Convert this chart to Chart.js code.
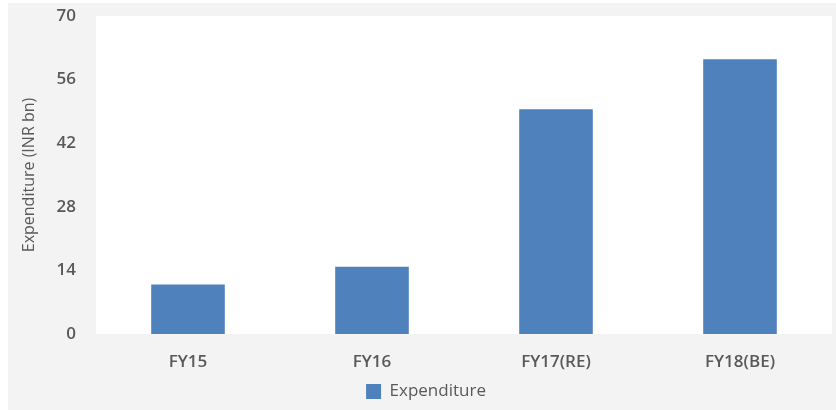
<!DOCTYPE html>
<html>
<head>
<meta charset="utf-8">
<script src="https://cdn.jsdelivr.net/npm/chart.js@4.4.1/dist/chart.umd.min.js"></script>
<style>
    html, body { margin: 0; padding: 0; background: #ffffff; }
    #wrap { width: 836px; height: 410px; position: relative; }
</style>
</head>
<body>
<div id="wrap"><canvas id="expChart" width="836" height="410"></canvas></div>
<script>
// Data
const categories = ['FY15', 'FY16', 'FY17(RE)', 'FY18(BE)'];
const expenditure = [10.9, 14.8, 49.5, 60.5];
const yTicks = [0, 14, 28, 42, 56, 70];

const textColor = '#595959';
const fontFamily = "'Open Sans', 'Liberation Sans', sans-serif";
const padLeft = 20;

// Grey outer frame + white plot area (Excel look)
const backgroundPlugin = {
    id: 'backgroundPlugin',
    beforeDraw(chart) {
        const ctx = chart.ctx;
        const area = chart.chartArea;
        ctx.save();
        ctx.fillStyle = '#f3f3f3';
        ctx.fillRect(8, 3, chart.width - 8, chart.height - 3);
        ctx.fillStyle = '#ffffff';
        ctx.fillRect(area.left, area.top, area.right - area.left, area.bottom - area.top);
        ctx.restore();
    }
};

new Chart(document.getElementById('expChart'), {
    type: 'bar',
    data: {
        labels: categories,
        datasets: [{
            label: 'Expenditure',
            data: expenditure,
            backgroundColor: '#4F81BD',
            borderWidth: 0,
            categoryPercentage: 1.0,
            barPercentage: 0.4
        }]
    },
    options: {
        responsive: false,
        animation: false,
        devicePixelRatio: 1,
        layout: {
            padding: { left: padLeft, right: 4, top: 16, bottom: 0 }
        },
        plugins: {
            legend: {
                display: true,
                position: 'bottom',
                labels: {
                    color: textColor,
                    font: { family: fontFamily, size: 17 },
                    boxWidth: 15,
                    boxHeight: 15,
                    padding: 7
                }
            },
            tooltip: { enabled: false }
        },
        scales: {
            x: {
                afterFit(scale) {
                    scale.height = 42;
                },
                grid: { display: false },
                border: { display: false },
                ticks: {
                    color: textColor,
                    font: { family: fontFamily, size: 17, weight: '600' },
                    padding: 10
                }
            },
            y: {
                min: 0,
                max: 70,
                afterBuildTicks(scale) {
                    scale.ticks = yTicks.map(v => ({ value: v }));
                },
                afterFit(scale) {
                    scale.width = 96 - padLeft;
                    scale.paddingTop = 0;
                    scale.paddingBottom = 0;
                },
                grid: { display: false },
                border: { display: false },
                ticks: {
                    color: textColor,
                    font: { family: fontFamily, size: 17, weight: '600' },
                    padding: 12
                },
                title: {
                    display: true,
                    text: 'Expenditure (INR bn)',
                    color: textColor,
                    font: { family: fontFamily, size: 16 },
                    padding: { top: 0, bottom: 0 }
                }
            }
        }
    },
    plugins: [backgroundPlugin]
});
</script>
</body>
</html>
